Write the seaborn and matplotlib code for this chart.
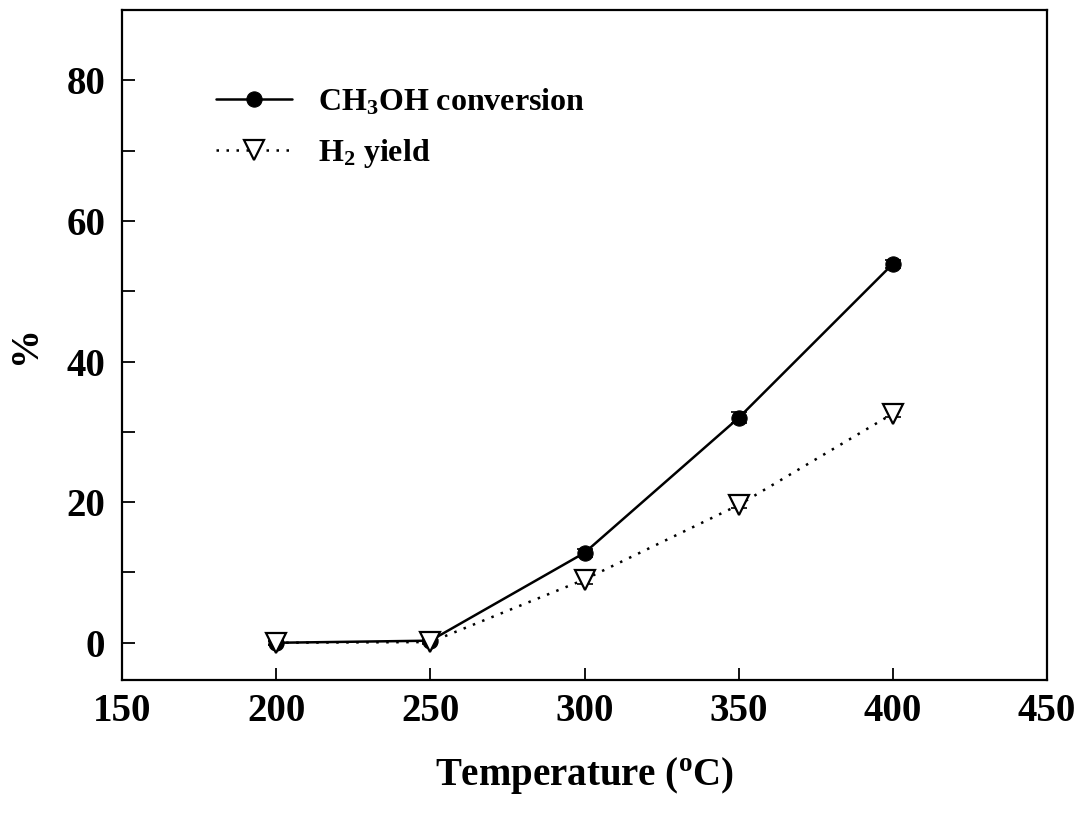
import numpy as np
import pandas as pd
import matplotlib
matplotlib.use("Agg")
import matplotlib.pyplot as plt
import seaborn as sns

# Temperatures and measured values
temperature = [200, 250, 300, 350, 400]
ch3oh_conversion = [0.0, 0.3, 12.8, 32.0, 53.9]
ch3oh_err = [0.3, 0.3, 0.6, 0.8, 0.6]
h2_yield = [0.0, 0.1, 9.0, 19.6, 32.6]
h2_err = [0.3, 0.3, 0.6, 0.5, 0.5]

x_ticks = [150, 200, 250, 300, 350, 400, 450]
y_ticks = [0, 20, 40, 60, 80]

sns.set_theme(style="ticks")
plt.rcParams["font.family"] = ["Liberation Serif", "DejaVu Serif"]
plt.rcParams["font.weight"] = "bold"
plt.rcParams["text.color"] = "black"
plt.rcParams["axes.labelcolor"] = "black"
plt.rcParams["xtick.color"] = "black"
plt.rcParams["ytick.color"] = "black"
plt.rcParams["mathtext.fontset"] = "custom"
plt.rcParams["mathtext.rm"] = "Liberation Serif:bold"
plt.rcParams["mathtext.it"] = "Liberation Serif:bold"
plt.rcParams["mathtext.bf"] = "Liberation Serif:bold"

df = pd.DataFrame({
    "T": temperature * 2,
    "value": ch3oh_conversion + h2_yield,
    "series": ["CH$_3$OH conversion"] * 5 + ["H$_2$ yield"] * 5,
})

fig = plt.figure(figsize=(10.81, 8.22), dpi=100)
ax = fig.add_axes([0.1129, 0.1727, 0.8557, 0.8151])

ax.errorbar(temperature, ch3oh_conversion, yerr=ch3oh_err, fmt="none",
            ecolor="black", elinewidth=1.2, capsize=6, capthick=1.2, zorder=2)
ax.errorbar(temperature, h2_yield, yerr=h2_err, fmt="none",
            ecolor="black", elinewidth=1.2, capsize=6, capthick=1.2, zorder=2)

sns.lineplot(data=df[df.series == "CH$_3$OH conversion"], x="T", y="value",
             ax=ax, color="black", linewidth=1.8, marker="o", markersize=11,
             markerfacecolor="black", markeredgecolor="black",
             label="CH$_3$OH conversion", zorder=3)
sns.lineplot(data=df[df.series == "H$_2$ yield"], x="T", y="value",
             ax=ax, color="black", linewidth=1.8, linestyle=(0, (1, 3)),
             marker="v", markersize=14, markerfacecolor="white",
             markeredgecolor="black", markeredgewidth=1.6,
             label="H$_2$ yield", zorder=4)

ax.set_xlim(150, 450)
ax.set_ylim(-5.3, 90)
ax.set_xticks(x_ticks)
ax.set_yticks(y_ticks)
ax.set_yticks([10, 30, 50, 70], minor=True)
ax.tick_params(axis="both", which="both", direction="in", length=9, width=1.3,
               colors="black", labelsize=28)
ax.tick_params(axis="y", which="both", pad=12)
ax.tick_params(axis="x", which="both", pad=9)
for lbl in ax.get_xticklabels() + ax.get_yticklabels():
    lbl.set_fontweight("bold")

for side in ["left", "right", "top", "bottom"]:
    ax.spines[side].set_visible(True)
    ax.spines[side].set_linewidth(1.6)
    ax.spines[side].set_color("black")

ax.set_xlabel("Temperature ($^{\\mathrm{o}}$C)", fontsize=28, fontweight="bold",
              labelpad=18)
ax.set_ylabel("%", fontsize=28, fontweight="bold", labelpad=16)

leg = ax.legend(loc="upper left", bbox_to_anchor=(0.07, 0.928), frameon=False,
                fontsize=23, handlelength=2.4, handletextpad=0.8,
                labelspacing=0.6)
for t in leg.get_texts():
    t.set_fontweight("bold")

fig.savefig("out.png", dpi=100)
